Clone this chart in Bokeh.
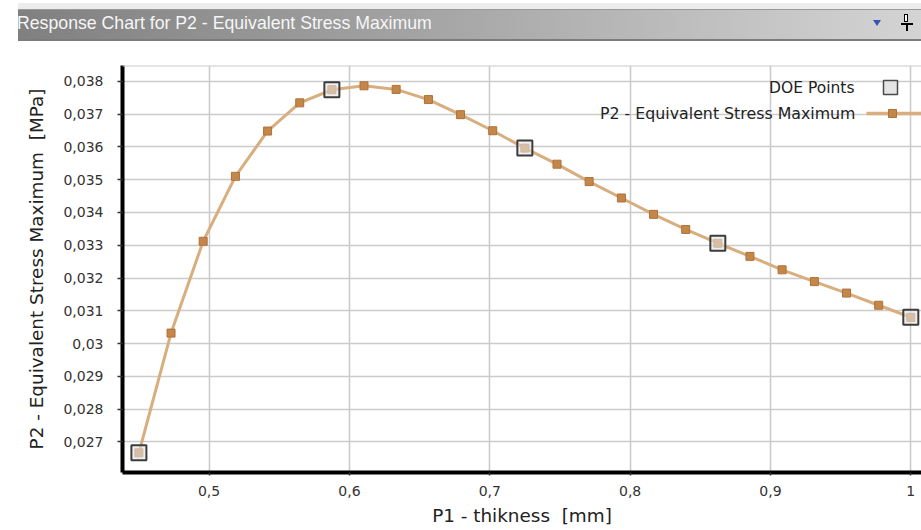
from bokeh.plotting import figure
from bokeh.layouts import column
from bokeh.models import Range1d, FixedTicker, Span, Div
from bokeh.core.properties import value
from bokeh.embed import file_html
from bokeh.resources import INLINE

# ---- data -------------------------------------------------------------
thickness = [0.45, 0.4729, 0.4958, 0.5188, 0.5417, 0.5646, 0.5875, 0.6104,
             0.6333, 0.6563, 0.6792, 0.7021, 0.725, 0.7479, 0.7708, 0.7938,
             0.8167, 0.8396, 0.8625, 0.8854, 0.9083, 0.9313, 0.9542, 0.9771,
             1.0]
stress = [0.02667, 0.03032, 0.03312, 0.03510, 0.03648, 0.03734, 0.03774,
          0.03786, 0.03775, 0.03744, 0.03698, 0.03649, 0.03596, 0.03547,
          0.03494, 0.03444, 0.03394, 0.03348, 0.03306, 0.03266, 0.03225,
          0.03189, 0.03154, 0.03117, 0.03080]

doe_thickness = [0.45, 0.5875, 0.725, 0.8625, 1.0]
doe_stress = [0.02667, 0.03774, 0.03596, 0.03306, 0.03080]

x_ticks = [0.5, 0.6, 0.7, 0.8, 0.9, 1.0]
x_tick_labels = ["0,5", "0,6", "0,7", "0,8", "0,9", "1"]
y_ticks = [0.027, 0.028, 0.029, 0.030, 0.031, 0.032, 0.033, 0.034, 0.035,
           0.036, 0.037, 0.038]
y_tick_labels = ["0,027", "0,028", "0,029", "0,03", "0,031", "0,032",
                 "0,033", "0,034", "0,035", "0,036", "0,037", "0,038"]

title_text = "Response Chart for P2 - Equivalent Stress Maximum"
series_name = "P2 - Equivalent Stress Maximum"
doe_name = "DOE Points"
x_title = "P1 - thikness\u00a0 [mm]"
y_title = "P2 - Equivalent Stress Maximum\u00a0 [MPa]"

# ---- layout constants (page pixels) ------------------------------------
W = 921
HEADER_H = 45
MAIN_H = 530 - HEADER_H
FRAME_L, FRAME_R = 122, 921
FRAME_T, FRAME_B = 65, 472          # page coordinates
X0, X1 = 0.43832, 1.00762
Y0, Y1 = 0.026070, 0.038479

LINE_COLOR = "#d8ae7e"
MARK_FILL = "#c4874a"
MARK_LINE = "#b0703a"


def fx(px):
    return X0 + (px - FRAME_L) * (X1 - X0) / (FRAME_R - FRAME_L)


def fy(py):
    return Y1 - (py - FRAME_T) * (Y1 - Y0) / (FRAME_B - FRAME_T)


# ---- header bar (panel caption with gradient, menu arrow and pin) -------
header_html = f"""
<div style="position:relative;width:{W}px;height:{HEADER_H}px;background:#ffffff;overflow:hidden;">
  <div style="position:absolute;left:18px;top:3px;width:{W-18}px;height:6px;background:#ececec;"></div>
  <div style="position:absolute;left:18px;top:9px;width:{W-18}px;height:32px;box-sizing:border-box;
              background:linear-gradient(to right,#808080 0%,#a4a4a4 45%,#d4d4d4 100%);
              border-top:1px solid #9a9a9a;border-bottom:2px solid #7c7c7c;"></div>
  <div style="position:absolute;left:17px;top:9px;height:30px;line-height:28px;
              font-family:'Liberation Sans';font-size:17.7px;color:#f6f6f6;white-space:nowrap;">{title_text}</div>
  <div style="position:absolute;left:873px;top:20px;width:0;height:0;
              border-left:4px solid transparent;border-right:4px solid transparent;
              border-top:6px solid #3b52b4;"></div>
  <div style="position:absolute;left:904px;top:14px;width:4px;height:8px;
              border:1.5px solid #000;background:#fff;"></div>
  <div style="position:absolute;left:901px;top:23px;width:12px;height:2px;background:#000;"></div>
  <div style="position:absolute;left:906px;top:25px;width:1.5px;height:6px;background:#000;"></div>
</div>
"""
header = Div(text=header_html, width=W, height=HEADER_H,
             styles={"margin": "0", "padding": "0"})

# ---- main chart -------------------------------------------------------
p = figure(width=W, height=MAIN_H, x_range=Range1d(X0, X1),
           y_range=Range1d(Y0, Y1), toolbar_location=None,
           output_backend="svg",
           min_border_left=FRAME_L, min_border_right=0,
           min_border_top=FRAME_T - HEADER_H,
           min_border_bottom=530 - FRAME_B,
           outline_line_color=None)
p.background_fill_color = "white"
p.border_fill_color = "white"

p.xaxis.ticker = FixedTicker(ticks=x_ticks)
p.yaxis.ticker = FixedTicker(ticks=y_ticks)
p.xaxis.major_label_overrides = {t: s for t, s in zip(x_ticks, x_tick_labels)}
p.yaxis.major_label_overrides = {t: s for t, s in zip(y_ticks, y_tick_labels)}

for ax in (p.xaxis, p.yaxis):
    ax.axis_line_width = 4
    ax.axis_line_color = "black"
    ax.major_tick_in = 0
    ax.minor_tick_out = 0
    ax.minor_tick_in = 0
    ax.major_tick_line_color = "#333333"
    ax.major_tick_line_width = 1.5
    ax.major_label_text_font = "DejaVu Sans"
    ax.major_label_text_font_size = "14px"
    ax.major_label_text_color = "#333333"
    ax.axis_label_text_font = "DejaVu Sans"
    ax.axis_label_text_font_size = "18.4px"
    ax.axis_label_text_font_style = "normal"
    ax.axis_label_text_color = "#222222"

p.xaxis.major_tick_out = 3
p.xaxis.major_label_standoff = 10
p.xaxis.axis_label = x_title
p.xaxis.axis_label_standoff = 6
p.yaxis.major_tick_out = 5
p.yaxis.major_label_standoff = 14
p.yaxis.axis_label = y_title
p.yaxis.axis_label_standoff = 13

p.xgrid.grid_line_color = "#cbcbcb"
p.ygrid.grid_line_color = "#cbcbcb"
p.xgrid.grid_line_width = 1.6
p.ygrid.grid_line_width = 1.6

p.add_layout(Span(location=Y1, dimension="width", line_color="#cbcbcb",
                  line_width=2))

# response curve
p.line(thickness, stress, line_color=LINE_COLOR, line_width=3)
p.scatter(thickness, stress, marker="square", size=8,
          fill_color=MARK_FILL, line_color=MARK_LINE, line_width=1)

# design-of-experiment points
p.scatter(doe_thickness, doe_stress, marker="square", size=15,
          fill_color="#e4e4e4", fill_alpha=0.6, line_color="#3c3c3c",
          line_width=2)

# legend (text on the left, symbol on the right)
p.text(x=[fx(854)], y=[fy(87)], text=[doe_name],
       text_font=value("DejaVu Sans"), text_font_size="15.5px",
       text_color="#222222", text_align="right", text_baseline="middle")
p.scatter(x=[fx(890)], y=[fy(87)], marker="square", size=14,
          fill_color="#e4e4e4", line_color="#4a4a4a", line_width=1.5)

p.text(x=[fx(855)], y=[fy(113)], text=[series_name],
       text_font=value("DejaVu Sans"), text_font_size="15.8px",
       text_color="#222222", text_align="right", text_baseline="middle")
p.line(x=[fx(866), fx(921)], y=[fy(113), fy(113)], line_color=LINE_COLOR,
       line_width=3.5)
p.scatter(x=[fx(892)], y=[fy(113)], marker="square", size=8,
          fill_color=MARK_FILL, line_color=MARK_LINE, line_width=1)

layout = column(header, p, spacing=0)

open("out.html", "w").write(file_html(layout, INLINE))
